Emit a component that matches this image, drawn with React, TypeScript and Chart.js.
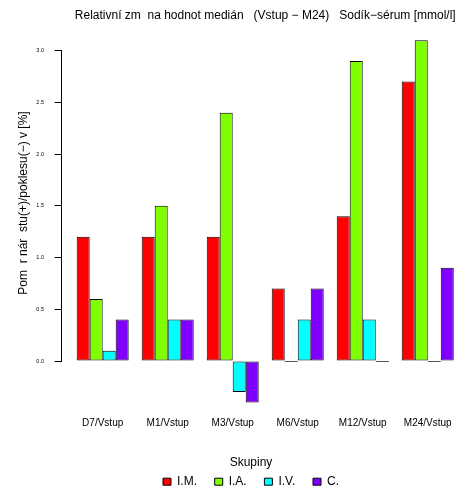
import React, { useEffect, useRef } from "react";
import { Chart, registerables } from "chart.js";

Chart.register(...registerables);

const categories = ["D7/Vstup", "M1/Vstup", "M3/Vstup", "M6/Vstup", "M12/Vstup", "M24/Vstup"];
const seriesNames = ["I.M.", "I.A.", "I.V.", "C."];
const seriesIM = [1.2, 1.2, 1.2, 0.7, 1.4, 2.7];
const seriesIA = [0.6, 1.5, 2.4, 0.0, 2.9, 3.1];
const seriesIV = [0.1, 0.4, -0.3, 0.4, 0.4, 0.0];
const seriesC = [0.4, 0.4, -0.4, 0.7, 0.0, 0.9];
const seriesColors = ["#FF0000", "#80FF00", "#00FFFF", "#8000FF"];
const yTicks = [0, 0.5, 1, 1.5, 2, 2.5, 3];

const titleText = "Relativní zm  na hodnot medián   (Vstup \u2212 M24)   Sodík\u2212sérum [mmol/l]";
const yTitleText = "Pom  r nár  stu(+)/poklesu(\u2212) v [%]";
const legendTitleText = "Skupiny";

// barplot units: each group = 1 gap + 4 bars
const groupCenter = (i: number) => 1 + i * 5 + 2;

const FONT = "'Liberation Sans', Arial, Helvetica, sans-serif";

export default function App() {
  const ref = useRef<HTMLCanvasElement | null>(null);

  useEffect(() => {
    if (!ref.current) return;
    const allSeries = [seriesIM, seriesIA, seriesIV, seriesC];

    const datasets = allSeries.map((vals, si) => ({
      label: seriesNames[si],
      data: vals.map((v, i) => ({ x: groupCenter(i), y: v })),
      backgroundColor: seriesColors[si],
      borderColor: "#000000",
      borderWidth: 1,
      borderSkipped: false as const,
    }));

    const layoutShift = {
      id: "layoutShift",
      afterLayout(chart: any) {
        const xs = chart.scales.x;
        const t = chart.titleBlock;
        if (t && xs) {
          const target = xs.getPixelForValue((groupCenter(0) + groupCenter(categories.length - 1)) / 2);
          const dx = target - (t.left + t.right) / 2;
          t.left += dx;
          t.right += dx;
        }
        const lg = chart.legend;
        if (lg) {
          lg.left += 22.5;
          lg.right += 22.5;
        }
      },
    };

    const extras = {
      id: "extras",
      afterDatasetsDraw(chart: any) {
        const ctx = chart.ctx;
        ctx.save();
        // zero-height bars as flat lines
        chart.data.datasets.forEach((ds: any, di: number) => {
          const meta = chart.getDatasetMeta(di);
          meta.data.forEach((el: any, i: number) => {
            if (ds.data[i].y === 0) {
              const { x, y, width } = el.getProps(["x", "y", "width"], true);
              ctx.strokeStyle = "#555555";
              ctx.lineWidth = 1;
              ctx.beginPath();
              ctx.moveTo(x - width / 2, Math.round(y) + 0.5);
              ctx.lineTo(x + width / 2, Math.round(y) + 0.5);
              ctx.stroke();
            }
          });
        });
        // y axis line from first to last tick
        const ys = chart.scales.y;
        const ax = Math.round(ys.right) - 0.5;
        ctx.strokeStyle = "#000000";
        ctx.lineWidth = 1;
        ctx.beginPath();
        ctx.moveTo(ax, ys.getPixelForValue(yTicks[0]));
        ctx.lineTo(ax, ys.getPixelForValue(yTicks[yTicks.length - 1]));
        ctx.stroke();
        // y axis title
        ctx.fillStyle = "#000000";
        ctx.font = "12px " + FONT;
        ctx.textAlign = "center";
        ctx.textBaseline = "middle";
        ctx.translate(23.5, 203);
        ctx.rotate(-Math.PI / 2);
        ctx.fillText(yTitleText, 0, 0);
        ctx.restore();
      },
    };

    const chart = new Chart(ref.current, {
      type: "bar",
      data: { datasets },
      plugins: [layoutShift, extras],
      options: {
        animation: false,
        responsive: false,
        maintainAspectRatio: false,
        layout: { padding: 0 },
        font: { family: FONT },
        datasets: {
          bar: { categoryPercentage: 0.8, barPercentage: 1.0, grouped: true },
        },
        scales: {
          x: {
            type: "linear",
            offset: false,
            min: -0.16,
            max: 30.25,
            grid: { display: false, drawTicks: false, offset: false },
            border: { display: false },
            afterBuildTicks: (scale: any) => {
              scale.ticks = categories.map((_, i) => ({ value: groupCenter(i) }));
            },
            afterFit: (scale: any) => {
              scale.height = 40.1;
            },
            ticks: {
              autoSkip: false,
              maxRotation: 0,
              minRotation: 0,
              padding: 0,
              color: "#000000",
              font: { family: FONT, size: 10 },
              callback: (v: any) => {
                const idx = categories.findIndex((_, i) => groupCenter(i) === v);
                return idx >= 0 ? categories[idx] : "";
              },
            },
          },
          y: {
            type: "linear",
            min: -0.54,
            max: 3.24,
            afterBuildTicks: (scale: any) => {
              scale.ticks = yTicks.map((v) => ({ value: v }));
            },
            afterFit: (scale: any) => {
              scale.width = 61.6;
            },
            grid: {
              display: true,
              drawOnChartArea: false,
              drawTicks: true,
              tickLength: 7,
              color: "#000000",
              lineWidth: 1,
            },
            border: { display: false },
            ticks: {
              padding: 10.6,
              color: "#000000",
              font: { family: FONT, size: 5.5 },
              callback: (v: any) => Number(v).toFixed(1),
            },
          },
        },
        plugins: {
          title: {
            display: true,
            text: titleText,
            color: "#000000",
            font: { family: FONT, size: 12, weight: "normal" },
            padding: { top: 8.3, bottom: 3 },
          },
          legend: {
            display: true,
            position: "bottom",
            maxHeight: 30,
            labels: {
              boxWidth: 8,
              boxHeight: 7,
              padding: 17.7,
              color: "#000000",
              font: { family: FONT, size: 12 },
            },
            title: {
              display: true,
              text: legendTitleText,
              color: "#000000",
              font: { family: FONT, size: 12 },
              padding: { top: 0, bottom: -13.4 },
            },
          },
          tooltip: { enabled: false },
        },
      } as any,
    });

    return () => chart.destroy();
  }, []);

  return (
    <div style={{ position: "absolute", left: 0, top: 0, width: 457, height: 487, background: "#fff" }}>
      <canvas ref={ref} width={457} height={487} style={{ display: "block" }} />
    </div>
  );
}
